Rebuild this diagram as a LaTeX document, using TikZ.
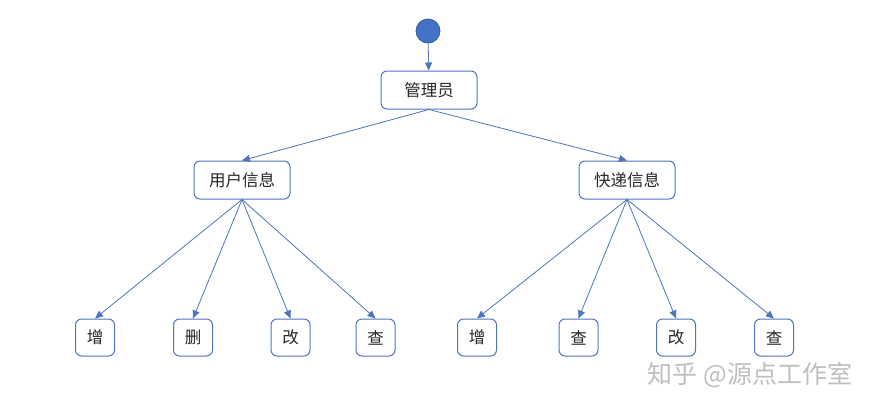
\documentclass[tikz,border=0pt]{standalone}
\usepackage{fontspec}
\newfontfamily\cjk{Noto Sans CJK SC}[Scale=1]
\usetikzlibrary{arrows.meta}
\definecolor{ublue}{HTML}{4472C4}
\definecolor{ulink}{HTML}{4F75BD}
\tikzset{
  box/.style={draw=ulink, line width=1pt, rounded corners=6pt, fill=white, minimum height=38pt, inner sep=0pt, font=\cjk\fontsize{16.5}{16.5}\selectfont, text=black!85},
  bigbox/.style={box, minimum width=96pt},
  leaf/.style={box, minimum width=39pt, minimum height=37pt},
  conn/.style={draw=ulink, line width=0.8pt, -{Triangle[length=8pt,width=7pt]}},
}
\begin{document}
\begin{tikzpicture}[x=1pt,y=-1pt]
\useasboundingbox[fill=white] (0,0) rectangle (878,410);
\node[circle, fill=ublue, draw=ublue!80!black, line width=0.8pt, minimum size=24pt, inner sep=0pt] (start) at (428,31) {};
\node[bigbox] (admin) at (429,90) {管理员};
\node[bigbox] (user) at (242,180) {用户信息};
\node[bigbox] (exp) at (627,180) {快递信息};
\node[leaf] (u1) at (95,337.5) {增};
\node[leaf] (u2) at (193,337.5) {删};
\node[leaf] (u3) at (290.5,337.5) {改};
\node[leaf] (u4) at (375.5,337.5) {查};
\node[leaf] (e1) at (477,337.5) {增};
\node[leaf] (e2) at (578.5,337.5) {查};
\node[leaf] (e3) at (676,337.5) {改};
\node[leaf] (e4) at (774,337.5) {查};
\draw[conn] (start) -- (admin);
\draw[conn] (admin.south) -- (user.north);
\draw[conn] (admin.south) -- (exp.north);
\foreach \c in {u1,u2,u3,u4} \draw[conn] (user.south) -- (\c.north);
\foreach \c in {e1,e2,e3,e4} \draw[conn] (exp.south) -- (\c.north);
\node[font=\cjk\fontsize{25}{25}\selectfont, text=black!25, anchor=center] (wm) at (750,375) {知乎 @源点工作室};
\end{tikzpicture}
\end{document}
